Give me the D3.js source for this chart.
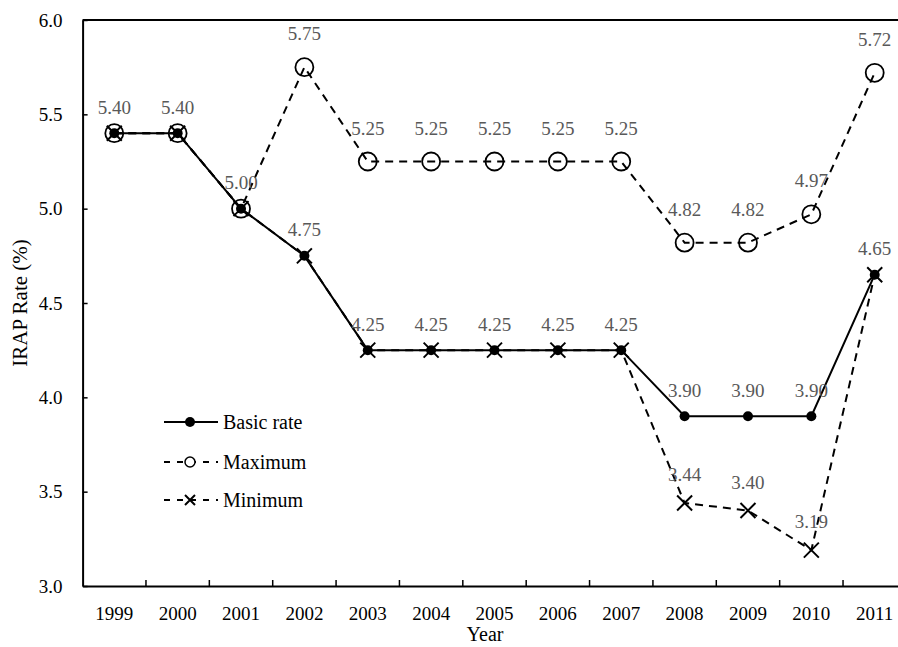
<!DOCTYPE html>
<html>
<head>
<meta charset="utf-8">
<script src="https://cdn.jsdelivr.net/npm/d3@7"></script>
<style>
  body { margin: 0; background: #fff; }
  svg { display: block; font-family: "Liberation Serif", "Times New Roman", serif; }
</style>
</head>
<body>
<svg id="chart" width="898" height="647"></svg>
<script>
const years = ["1999","2000","2001","2002","2003","2004","2005","2006","2007","2008","2009","2010","2011"];
const basicRate = [5.40,5.40,5.00,4.75,4.25,4.25,4.25,4.25,4.25,3.90,3.90,3.90,4.65];
const maximum   = [5.40,5.40,5.00,5.75,5.25,5.25,5.25,5.25,5.25,4.82,4.82,4.97,5.72];
const minimum   = [5.40,5.40,5.00,4.75,4.25,4.25,4.25,4.25,4.25,3.44,3.40,3.19,4.65];
const showBasicLabel = [1,1,1,1,1,1,1,1,1,1,1,1,1];
const showMaxLabel   = [0,0,0,1,1,1,1,1,1,1,1,1,1];
const showMinLabel   = [0,0,0,0,0,0,0,0,0,1,1,1,0];
const yTicks = [3.0,3.5,4.0,4.5,5.0,5.5,6.0];
const seriesNames = ["Basic rate","Maximum","Minimum"];

const svg = d3.select("#chart");
const pLeft = 82.6, pRight = 906.4, pTop = 20, pBottom = 586;
const x = d3.scaleBand().domain(years).range([pLeft, pRight]);
const cx = d => x(d) + x.bandwidth() / 2;
const y = d3.scaleLinear().domain([3, 6]).range([pBottom, pTop]);
const labelColor = "#595959";

// frame top
svg.append("line").attr("x1", pLeft).attr("x2", pRight).attr("y1", y(6)).attr("y2", y(6))
  .attr("stroke", "#000").attr("stroke-width", 2);

// Y axis
const yAxis = svg.append("g").attr("transform", `translate(${pLeft},0)`)
  .call(d3.axisLeft(y).tickValues(yTicks).tickFormat(d3.format(".1f")).tickSizeInner(-5).tickSizeOuter(0).tickPadding(20));
yAxis.select(".domain").attr("stroke-width", 2);
yAxis.selectAll(".tick line").attr("stroke-width", 1.5);
yAxis.selectAll("text").attr("font-size", 19).attr("fill", "#000").attr("font-family", "Liberation Serif");

// X axis
const xAxis = svg.append("g").attr("transform", `translate(0,${pBottom})`)
  .call(d3.axisBottom(x).tickSize(0).tickPadding(21));
xAxis.select(".domain").attr("stroke-width", 2);
xAxis.selectAll("text").attr("font-size", 19).attr("fill", "#000").attr("font-family", "Liberation Serif");
xAxis.selectAll(".boundary").data(years.slice(1)).enter().append("line")
  .attr("x1", d => x(d)).attr("x2", d => x(d)).attr("y1", 0).attr("y2", -6)
  .attr("stroke", "#000").attr("stroke-width", 1.5);

// axis titles
svg.append("text").attr("x", 485).attr("y", 641).attr("text-anchor", "middle")
  .attr("font-size", 20).text("Year");
svg.append("text").attr("transform", "translate(27,303) rotate(-90)").attr("text-anchor", "middle")
  .attr("font-size", 21).text("IRAP Rate (%)");

const line = d3.line().x((d, i) => cx(years[i])).y(d => y(d));
const dash = "8,6";

svg.append("path").datum(maximum).attr("d", line).attr("fill", "none")
  .attr("stroke", "#000").attr("stroke-width", 2).attr("stroke-dasharray", dash);
svg.append("path").datum(minimum).attr("d", line).attr("fill", "none")
  .attr("stroke", "#000").attr("stroke-width", 2).attr("stroke-dasharray", dash);
svg.append("path").datum(basicRate).attr("d", line).attr("fill", "none")
  .attr("stroke", "#000").attr("stroke-width", 2);

function xMark(g, px, py, s) {
  g.append("path").attr("d", `M${px-s},${py-s}L${px+s},${py+s}M${px-s},${py+s}L${px+s},${py-s}`)
    .attr("stroke", "#000").attr("stroke-width", 2).attr("fill", "none");
}

const marks = svg.append("g");
maximum.forEach((v, i) => {
  marks.append("circle").attr("cx", cx(years[i])).attr("cy", y(v)).attr("r", 9)
    .attr("fill", "none").attr("stroke", "#000").attr("stroke-width", 1.8);
});
minimum.forEach((v, i) => xMark(marks, cx(years[i]), y(v), 7.5));
basicRate.forEach((v, i) => {
  marks.append("circle").attr("cx", cx(years[i])).attr("cy", y(v)).attr("r", 5).attr("fill", "#000");
});

// data labels
const labels = svg.append("g").attr("font-size", 19).attr("fill", labelColor).attr("text-anchor", "middle");
function addLabels(vals, show, off) {
  vals.forEach((v, i) => {
    if (!show[i]) return;
    labels.append("text").attr("x", cx(years[i])).attr("y", y(v) - off).text(d3.format(".2f")(v));
  });
}
addLabels(basicRate, showBasicLabel, 19.5);
addLabels(maximum, showMaxLabel, 27);
addLabels(minimum, showMinLabel, 22);

// legend
const legY = [422, 462, 500];
const lg = svg.append("g");
seriesNames.forEach((name, i) => {
  const yy = legY[i];
  const l = lg.append("line").attr("x1", 164).attr("x2", 218).attr("y1", yy).attr("y2", yy)
    .attr("stroke", "#000").attr("stroke-width", 2);
  if (i > 0) l.attr("stroke-dasharray", "6,7");
  if (i === 0) lg.append("circle").attr("cx", 190).attr("cy", yy).attr("r", 5).attr("fill", "#000");
  if (i === 1) lg.append("circle").attr("cx", 190).attr("cy", yy).attr("r", 5).attr("fill", "#fff")
    .attr("stroke", "#000").attr("stroke-width", 1.5);
  if (i === 2) xMark(lg, 190, yy, 5);
  lg.append("text").attr("x", 223).attr("y", yy).attr("dy", "0.33em").attr("font-size", 20).text(name);
});
</script>
</body>
</html>
